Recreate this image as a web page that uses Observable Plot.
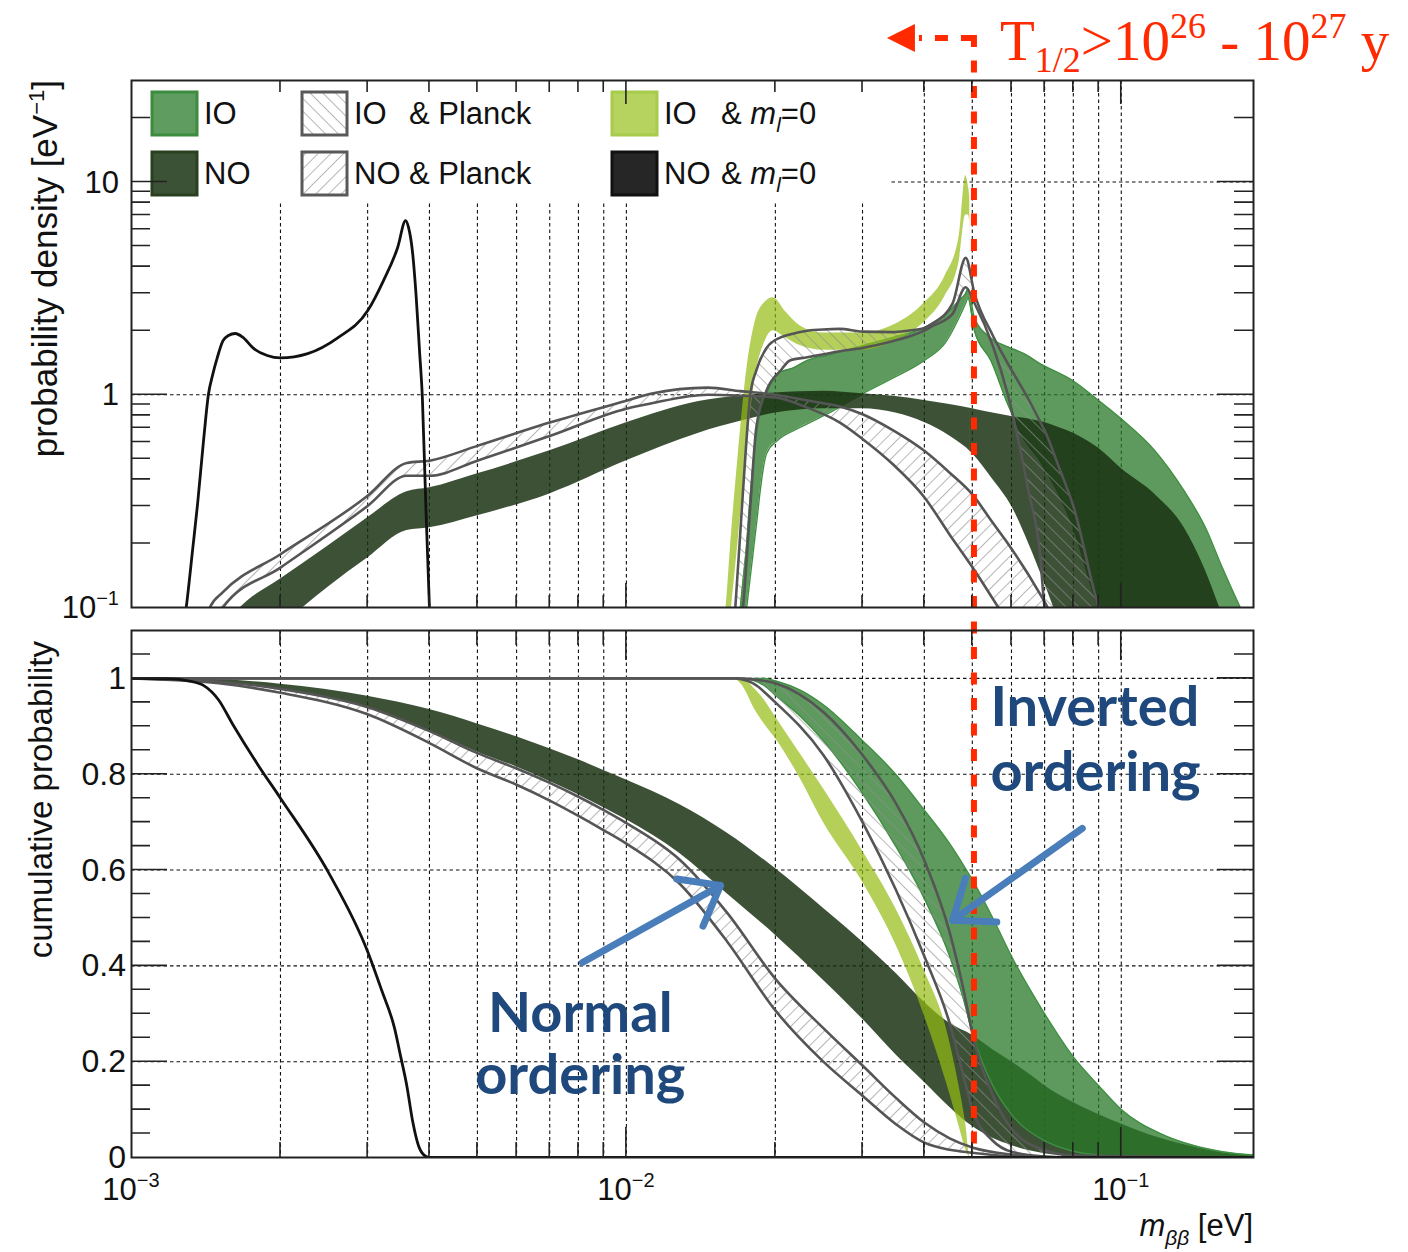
<!DOCTYPE html>
<html>
<head>
<meta charset="utf-8">
<script src="https://cdn.jsdelivr.net/npm/d3@7"></script>
<script src="https://cdn.jsdelivr.net/npm/@observablehq/plot@0.6"></script>
<style>
  html, body { margin: 0; padding: 0; background: #fff; }
  #chart { position: relative; width: 1408px; height: 1252px; overflow: hidden; }
  #chart svg { display: block; }
</style>
</head>
<body>
<svg width="0" height="0" style="position:absolute">
  <defs>
    <pattern id="hatchIO" patternUnits="userSpaceOnUse" width="9" height="9" patternTransform="rotate(-45)">
      <line x1="0" y1="0" x2="0" y2="9" stroke="#8e8e8e" stroke-width="1.3"></line>
    </pattern>
    <pattern id="hatchNO" patternUnits="userSpaceOnUse" width="9" height="9" patternTransform="rotate(45)">
      <line x1="0" y1="0" x2="0" y2="9" stroke="#8e8e8e" stroke-width="1.3"></line>
    </pattern>
  </defs>
</svg>
<div id="chart"></div>
<script>
// ---------------- axes / ticks ----------------
const X_DOMAIN = [0.001, 0.185];
const xMinorTicks = [0.002, 0.003, 0.004, 0.005, 0.006, 0.007, 0.008, 0.009, 0.02, 0.03, 0.04, 0.05, 0.06, 0.07, 0.08, 0.09];
const xMajorTicks = [0.01, 0.1];
const xGridLines = [0.002, 0.003, 0.004, 0.005, 0.006, 0.007, 0.008, 0.009, 0.01, 0.02, 0.03, 0.04, 0.05, 0.06, 0.07, 0.08, 0.09, 0.1];
const xTickLabels = [[0.001, "−3"], [0.01, "−2"], [0.1, "−1"]];

const densDomain = [0.1, 30];
const densMinorTicks = [0.2, 0.3, 0.4, 0.5, 0.6, 0.7, 0.8, 0.9, 2, 3, 4, 5, 6, 7, 8, 9, 20];
const densMajorTicks = [1, 10];
const densGridLines = [1, 10];
const densTickLabels = [[0.1, "10", "−1"], [1, "1", ""], [10, "10", ""]];

const cumDomain = [0, 1.1];
const cumMinorTicks = [0.05, 0.1, 0.15, 0.25, 0.3, 0.35, 0.45, 0.5, 0.55, 0.65, 0.7, 0.75, 0.85, 0.9, 0.95, 1.05];
const cumMajorTicks = [0.2, 0.4, 0.6, 0.8, 1];
const cumGridLines = [0.2, 0.4, 0.6, 0.8, 1];
const cumTickLabels = [0, 0.2, 0.4, 0.6, 0.8, 1];

// ---------------- probability density (top panel) ----------------
// NO & m_l = 0 (black line)
const noZeroX    = [0.00125, 0.00129, 0.00133, 0.00136, 0.0014, 0.00143, 0.00146, 0.00149, 0.00153, 0.00157, 0.00162, 0.00168, 0.00176, 0.00188, 0.002, 0.00227, 0.00261, 0.003, 0.00323, 0.00345, 0.00358, 0.00363, 0.0037, 0.00376, 0.00382, 0.00387, 0.00393, 0.004, 0.00404];
const noZeroDens = [0.06, 0.1, 0.19, 0.307, 0.628, 1.0, 1.25, 1.49, 1.79, 1.9, 1.94, 1.86, 1.66, 1.53, 1.49, 1.56, 1.85, 2.48, 3.44, 4.92, 6.59, 6.1, 4.6, 2.9, 1.6, 0.97, 0.32, 0.1, 0.06];

// NO band
const noX   = [0.0015, 0.00166, 0.002, 0.0025, 0.003, 0.0036, 0.004, 0.005, 0.007, 0.01, 0.014, 0.017, 0.02, 0.025, 0.03, 0.035, 0.04, 0.045, 0.05, 0.055, 0.06, 0.065, 0.07, 0.075, 0.08, 0.09, 0.1, 0.117, 0.134, 0.148, 0.158, 0.165];
const noHi  = [0.075, 0.1, 0.136, 0.195, 0.264, 0.35, 0.365, 0.425, 0.545, 0.738, 0.93, 0.99, 1.02, 1.04, 1.01, 0.98, 0.94, 0.9, 0.86, 0.82, 0.79, 0.77, 0.74, 0.7, 0.66, 0.56, 0.45, 0.34, 0.237, 0.149, 0.1, 0.075];
const noLo  = [0.04, 0.05, 0.08, 0.125, 0.171, 0.23, 0.237, 0.27, 0.342, 0.489, 0.66, 0.75, 0.82, 0.86, 0.86, 0.82, 0.74, 0.64, 0.53, 0.4, 0.3, 0.2, 0.13, 0.085, 0.06, 0.04, 0.03, 0.02, 0.02, 0.02, 0.02, 0.02];

// NO & Planck band
const noPlanckX  = [0.0014, 0.00144, 0.00153, 0.002, 0.003, 0.0036, 0.004, 0.005, 0.007, 0.01, 0.0112, 0.0146, 0.017, 0.02, 0.0232, 0.027, 0.03, 0.0346, 0.04, 0.045, 0.05, 0.055, 0.059, 0.0685, 0.071, 0.074];
const noPlanckHi = [0.08, 0.1, 0.118, 0.178, 0.335, 0.478, 0.49, 0.575, 0.74, 0.937, 1.01, 1.08, 1.04, 1.0, 0.94, 0.88, 0.81, 0.68, 0.545, 0.43, 0.34, 0.25, 0.2, 0.116, 0.1, 0.08];
const noPlanckLo = [0.06, 0.075, 0.1, 0.154, 0.3, 0.416, 0.416, 0.49, 0.64, 0.86, 0.91, 1.0, 0.99, 0.97, 0.87, 0.74, 0.62, 0.47, 0.33, 0.22, 0.155, 0.11, 0.085, 0.05, 0.045, 0.04];

// IO band
const ioX  = [0.0168, 0.017, 0.0175, 0.0178, 0.0184, 0.0186, 0.0192, 0.0202, 0.0218, 0.0232, 0.0254, 0.03, 0.0346, 0.04, 0.0443, 0.047, 0.0485, 0.049, 0.0505, 0.0545, 0.059, 0.0636, 0.0685, 0.08, 0.09, 0.1, 0.117, 0.134, 0.148, 0.16, 0.174, 0.18];
const ioHi = [0.07, 0.1, 0.2, 0.34, 0.7, 0.82, 1.01, 1.26, 1.34, 1.45, 1.53, 1.7, 1.86, 2.07, 2.4, 2.77, 3.0, 3.15, 2.3, 1.85, 1.68, 1.56, 1.4, 1.16, 0.94, 0.77, 0.545, 0.353, 0.237, 0.154, 0.1, 0.085];
const ioLo = [0.05, 0.06, 0.1, 0.14, 0.27, 0.34, 0.53, 0.61, 0.68, 0.73, 0.81, 1.01, 1.2, 1.45, 1.78, 2.3, 2.7, 2.85, 2.0, 1.45, 0.9, 0.62, 0.49, 0.237, 0.1, 0.07, 0.05, 0.05, 0.05, 0.05, 0.05, 0.05];

// IO & m_l = 0 band
const ioZeroX  = [0.0155, 0.0159, 0.0163, 0.0168, 0.0175, 0.0182, 0.019, 0.0198, 0.021, 0.0225, 0.025, 0.03, 0.035, 0.04, 0.044, 0.047, 0.0485, 0.0491, 0.0494, 0.0497];
const ioZeroHi = [0.06, 0.1, 0.22, 0.5, 1.3, 2.2, 2.7, 2.86, 2.45, 2.1, 1.95, 1.95, 2.15, 2.7, 3.6, 5.5, 10.7, 9.5, 8.5, 0.05];
const ioZeroLo = [0.04, 0.06, 0.1, 0.2, 0.55, 1.2, 1.75, 2.0, 1.85, 1.7, 1.62, 1.62, 1.8, 2.2, 2.9, 4.2, 7.0, 7.0, 6.5, 0.05];

// IO & Planck band
const ioPlanckX  = [0.0163, 0.0166, 0.0172, 0.0178, 0.0183, 0.0192, 0.0205, 0.0214, 0.0232, 0.0254, 0.027, 0.03, 0.0346, 0.037, 0.04, 0.0415, 0.0456, 0.0485, 0.0505, 0.055, 0.059, 0.065, 0.0685, 0.07, 0.075, 0.08, 0.09, 0.095];
const ioPlanckHi = [0.06, 0.1, 0.35, 1.0, 1.3, 1.66, 1.86, 1.92, 2.0, 2.03, 2.04, 1.98, 1.97, 2.0, 2.06, 2.16, 2.68, 4.4, 3.0, 1.9, 1.4, 0.95, 0.75, 0.68, 0.45, 0.3, 0.1, 0.07];
const ioPlanckLo = [0.04, 0.06, 0.1, 0.3, 0.7, 1.05, 1.3, 1.45, 1.5, 1.56, 1.6, 1.66, 1.79, 1.87, 2.0, 2.1, 2.4, 3.2, 2.7, 1.7, 1.0, 0.35, 0.18, 0.1, 0.06, 0.05, 0.05, 0.05];

// ---------------- cumulative probability (bottom panel) ----------------
const cumNoZeroX = [0.001, 0.0012, 0.0013, 0.0014, 0.0015, 0.0016, 0.0018, 0.002, 0.0025, 0.003, 0.0032, 0.0034, 0.0035, 0.0036, 0.0037, 0.0038, 0.0039, 0.004, 0.185];
const cumNoZeroY = [1, 0.999, 0.995, 0.985, 0.955, 0.905, 0.82, 0.75, 0.595, 0.43, 0.35, 0.27, 0.21, 0.15, 0.075, 0.025, 0.005, 0, 0];

const cumNoX  = [0.001, 0.0015, 0.002, 0.003, 0.004, 0.005, 0.006, 0.007, 0.008, 0.009, 0.01, 0.0128, 0.016, 0.02, 0.025, 0.03, 0.035, 0.04, 0.045, 0.05, 0.055, 0.06, 0.066, 0.07, 0.08, 0.09, 0.1, 0.12, 0.14, 0.16, 0.185];
const cumNoHi = [1, 0.997, 0.988, 0.963, 0.935, 0.905, 0.878, 0.853, 0.83, 0.808, 0.788, 0.737, 0.677, 0.603, 0.52, 0.45, 0.385, 0.324, 0.28, 0.255, 0.225, 0.2, 0.17, 0.15, 0.115, 0.09, 0.07, 0.04, 0.022, 0.01, 0.003];
const cumNoLo = [1, 0.993, 0.978, 0.94, 0.89, 0.846, 0.815, 0.785, 0.757, 0.73, 0.705, 0.635, 0.55, 0.464, 0.37, 0.289, 0.215, 0.157, 0.105, 0.065, 0.04, 0.025, 0.013, 0.008, 0.003, 0.001, 0, 0, 0, 0, 0];

const cumNoPlanckX  = [0.001, 0.0015, 0.002, 0.003, 0.004, 0.005, 0.006, 0.007, 0.008, 0.009, 0.01, 0.0128, 0.016, 0.02, 0.025, 0.03, 0.035, 0.04, 0.045, 0.05, 0.06, 0.07, 0.08, 0.185];
const cumNoPlanckHi = [1, 0.993, 0.978, 0.94, 0.89, 0.844, 0.812, 0.782, 0.753, 0.725, 0.698, 0.622, 0.51, 0.373, 0.27, 0.192, 0.125, 0.073, 0.04, 0.021, 0.006, 0.001, 0, 0];
const cumNoPlanckLo = [1, 0.99, 0.97, 0.925, 0.865, 0.812, 0.778, 0.745, 0.713, 0.683, 0.655, 0.572, 0.45, 0.307, 0.2, 0.129, 0.07, 0.031, 0.016, 0.01, 0.002, 0, 0, 0];

const cumIoX  = [0.001, 0.017, 0.019, 0.02, 0.0225, 0.025, 0.03, 0.035, 0.04, 0.045, 0.048, 0.05, 0.055, 0.06, 0.07, 0.08, 0.09, 0.1, 0.12, 0.14, 0.16, 0.185];
const cumIoHi = [1, 1, 1, 0.995, 0.975, 0.945, 0.87, 0.8, 0.725, 0.655, 0.61, 0.58, 0.5, 0.42, 0.3, 0.21, 0.15, 0.1, 0.05, 0.025, 0.012, 0.005];
const cumIoLo = [1, 1, 0.985, 0.965, 0.92, 0.87, 0.76, 0.65, 0.54, 0.42, 0.33, 0.26, 0.15, 0.09, 0.035, 0.013, 0.005, 0.002, 0, 0, 0, 0];

const cumIoZeroX  = [0.001, 0.0155, 0.0165, 0.017, 0.0183, 0.019, 0.02, 0.0222, 0.025, 0.03, 0.035, 0.04, 0.0443, 0.047, 0.0485, 0.0495, 0.185];
const cumIoZeroHi = [1, 1, 1, 1, 0.975, 0.955, 0.92, 0.85, 0.77, 0.64, 0.52, 0.39, 0.27, 0.15, 0.07, 0, 0];
const cumIoZeroLo = [1, 1, 0.998, 0.99, 0.93, 0.905, 0.875, 0.8, 0.7, 0.575, 0.445, 0.296, 0.157, 0.066, 0.017, 0, 0];

const cumIoPlanckX  = [0.001, 0.0165, 0.018, 0.02, 0.025, 0.03, 0.035, 0.04, 0.045, 0.048, 0.05, 0.055, 0.06, 0.07, 0.08, 0.185];
const cumIoPlanckHi = [1, 1, 0.998, 0.99, 0.93, 0.84, 0.74, 0.62, 0.47, 0.35, 0.26, 0.13, 0.06, 0.015, 0.004, 0];
const cumIoPlanckLo = [1, 1, 0.99, 0.95, 0.84, 0.7, 0.56, 0.42, 0.28, 0.17, 0.1, 0.035, 0.012, 0.002, 0, 0];

// ---------------- annotations ----------------
const limitX = [0.0505];   // m_bb reach for T1/2 > 1e26 - 1e27 y
const orderingArrows = [
  {x1: 0.00815, y1: 0.407, x2: 0.0155, y2: 0.568},
  {x1: 0.0834, y1: 0.687, x2: 0.0456, y2: 0.495}
];
const normalLabels = [{x: 0.00807, y: 0.262, text: "Normal"}, {x: 0.00807, y: 0.132, text: "ordering"}];
const invertedLabels = [{x: 0.0544, y: 0.9, text: "Inverted"}, {x: 0.0544, y: 0.766, text: "ordering"}];

const legendEntries = [
  {row: 0, col: 0, name: "IO", cond: null, fill: "#5f9c5f", stroke: "#3b8c3e"},
  {row: 1, col: 0, name: "NO", cond: null, fill: "#3c5236", stroke: "#28401f"},
  {row: 0, col: 1, name: "IO", cond: "planck", fill: "url(#hatchIO)", stroke: "#595959"},
  {row: 1, col: 1, name: "NO", cond: "planck", fill: "url(#hatchNO)", stroke: "#595959"},
  {row: 0, col: 2, name: "IO", cond: "zero", fill: "#b6d35f", stroke: "#a7cb4a"},
  {row: 1, col: 2, name: "NO", cond: "zero", fill: "#262626", stroke: "#111111"}
];

// ---------------- styles ----------------
const FONT = "'Liberation Sans', Arial, Helvetica, sans-serif";
const RED = "#ff2a00";
const BLUE_TEXT = "#1f497d";
const BLUE_ARROW = "#4a7ebb";
const IO_FILL = "rgb(40,120,40)", IO_OP = 0.75;
const NO_FILL = "rgb(24,48,17)", NO_OP = 0.84;
const IOZ_FILL = "rgb(148,188,19)", IOZ_OP = 0.7;
const EDGE_GREY = "#555";

const band = (xs, lo, hi) => xs.map((x, i) => ({x, lo: lo[i], hi: hi[i]}));
const pts = (xs, ys) => xs.map((x, i) => ({x, y: ys[i]}));

function area(rows, fill, fillOpacity = 1) {
  return Plot.areaY(rows, {x: "x", y1: "lo", y2: "hi", fill, fillOpacity, curve: "monotone-x", clip: true});
}
function edges(rows, stroke, strokeWidth) {
  return [
    Plot.line(rows, {x: "x", y: "lo", stroke, strokeWidth, curve: "monotone-x", clip: true}),
    Plot.line(rows, {x: "x", y: "hi", stroke, strokeWidth, curve: "monotone-x", clip: true})
  ];
}
const SVGNS = "http://www.w3.org/2000/svg";

function ticksMark(yMinor, yMajor, xLen, yLen) {
  return (index, scales, values, dims) => {
    const {x, y} = scales;
    const L = dims.marginLeft, R = dims.width - dims.marginRight, T = dims.marginTop, B = dims.height - dims.marginBottom;
    let d = "";
    const xt = (vals, len) => { for (const v of vals) { const p = x(v); d += `M${p},${B}V${B - len}M${p},${T}V${T + len}`; } };
    const yt = (vals, len) => { for (const v of vals) { const p = y(v); d += `M${L},${p}H${L + len}M${R},${p}H${R - len}`; } };
    xt(xMinorTicks, xLen[0]); xt(xMajorTicks, xLen[1]);
    yt(yMinor, yLen[0]); yt(yMajor, yLen[1]);
    const path = document.createElementNS(SVGNS, "path");
    path.setAttribute("d", d);
    path.setAttribute("fill", "none");
    path.setAttribute("stroke", "#222");
    path.setAttribute("stroke-width", "1.6");
    return path;
  };
}

function legendMark(index, scales, values, dims) {
  const L = dims.marginLeft, T = dims.marginTop;
  const g = d3.create("svg:g").attr("font-family", FONT).attr("font-size", 31).attr("fill", "#111").attr("text-anchor", "start");
  g.append("rect").attr("x", L + 1).attr("y", T + 1).attr("width", 758).attr("height", 122).attr("fill", "#fff");
  const colX = [L + 21, L + 171, L + 481];
  const rowY = [T + 33, T + 93];
  for (const e of legendEntries) {
    const sx = colX[e.col], cy = rowY[e.row];
    if (e.cond === "planck") {
      g.append("rect").attr("x", sx).attr("y", cy - 21).attr("width", 45).attr("height", 43).attr("fill", "#fff");
    }
    g.append("rect").attr("x", sx).attr("y", cy - 21).attr("width", 45).attr("height", 43)
      .attr("fill", e.fill).attr("stroke", e.stroke).attr("stroke-width", 3);
    g.append("text").attr("x", sx + 52).attr("y", cy + 11).text(e.name);
    if (e.cond) {
      const t = g.append("text").attr("x", sx + 107 + (e.col === 2 ? 2 : 0)).attr("y", cy + 11);
      if (e.cond === "planck") {
        t.text("& Planck");
      } else {
        t.append("tspan").text("& ");
        t.append("tspan").attr("font-style", "italic").text("m");
        t.append("tspan").attr("font-style", "italic").attr("font-size", 21).attr("dy", 8).text("l");
        t.append("tspan").attr("dy", -8).text("=0");
      }
    }
  }
  return g.node();
}

function supLabel(g, x, y, base, sup, anchor, size) {
  const t = g.append("text").attr("x", x).attr("y", y).attr("text-anchor", anchor).attr("font-size", size);
  t.append("tspan").text(base);
  if (sup) t.append("tspan").attr("dy", -Math.round(size * 0.42)).attr("font-size", Math.round(size * 0.66)).text(sup);
  return t;
}

function topLabels(index, {x, y}, values, dims) {
  const L = dims.marginLeft, T = dims.marginTop;
  const g = d3.create("svg:g").attr("font-family", FONT).attr("fill", "#111");
  for (const [v, base, sup] of densTickLabels) supLabel(g, L - 12, y(v) + 11, base, sup, "end", 31);
  const t = g.append("text").attr("transform", `translate(45,${T}) rotate(-90)`).attr("text-anchor", "end")
    .attr("font-size", 35).attr("dy", "0.35em");
  t.append("tspan").text("probability density [eV");
  t.append("tspan").attr("dy", -13).attr("font-size", 22).text("−1");
  t.append("tspan").attr("dy", 13).text("]");
  return g.node();
}

function bottomLabels(index, {x, y}, values, dims) {
  const L = dims.marginLeft, R = dims.width - dims.marginRight, T = dims.marginTop, B = dims.height - dims.marginBottom;
  const g = d3.create("svg:g").attr("font-family", FONT).attr("fill", "#111");
  for (const [v, sup] of xTickLabels) supLabel(g, x(v), B + 43, "10", sup, "middle", 31);
  for (const v of cumTickLabels) {
    g.append("text").attr("x", L - 5).attr("y", y(v) + 11).attr("text-anchor", "end").attr("font-size", 32)
      .text(v === 0 || v === 1 ? String(v) : v.toFixed(1));
  }
  g.append("text").attr("transform", `translate(40,${T + 11}) rotate(-90)`).attr("text-anchor", "end")
    .attr("font-size", 33).attr("dy", "0.35em").text("cumulative probability");
  const t = g.append("text").attr("x", R).attr("y", B + 79).attr("text-anchor", "end").attr("font-size", 31);
  t.append("tspan").attr("font-style", "italic").text("m");
  t.append("tspan").attr("font-style", "italic").attr("font-size", 21).attr("dy", 9).text("ββ");
  t.append("tspan").attr("dy", -9).text(" [eV]");
  return g.node();
}

const TOP_START = 35, V_DASH = "12,13.5", V_PERIOD = 25.5;
function limitTop(index, {x}, values, dims) {
  const px = x(limitX[0]);
  const g = d3.create("svg:g");
  const yA = TOP_START + 3;
  g.append("line").attr("x1", px).attr("x2", px).attr("y1", TOP_START).attr("y2", dims.height)
    .attr("stroke", RED).attr("stroke-width", 6).attr("stroke-dasharray", V_DASH);
  g.append("line").attr("x1", px).attr("x2", px - 55).attr("y1", yA).attr("y2", yA)
    .attr("stroke", RED).attr("stroke-width", 6).attr("stroke-dasharray", "13,13");
  g.append("path").attr("d", `M${px - 87},${yA}L${px - 59},${yA - 14}L${px - 59},${yA + 14}Z`).attr("fill", RED);
  const t = g.append("text").attr("x", px + 26).attr("y", 60).attr("fill", RED).attr("text-anchor", "start")
    .attr("font-family", "'Liberation Serif', 'Times New Roman', serif").attr("font-size", 57);
  t.append("tspan").text("T");
  t.append("tspan").attr("font-size", 36).attr("dy", 12).text("1/2");
  t.append("tspan").attr("dy", -12).text(">10");
  t.append("tspan").attr("font-size", 36).attr("dy", -22).text("26");
  t.append("tspan").attr("dy", 22).text(" - 10");
  t.append("tspan").attr("font-size", 36).attr("dy", -22).text("27");
  t.append("tspan").attr("dy", 22).text(" y");
  return g.node();
}
function limitBottom(index, {x}, values, dims) {
  const px = x(limitX[0]);
  const g = d3.create("svg:g");
  const offset = (620 - TOP_START) % V_PERIOD;
  g.append("line").attr("x1", px).attr("x2", px).attr("y1", 0).attr("y2", dims.height - dims.marginBottom)
    .attr("stroke", RED).attr("stroke-width", 6).attr("stroke-dasharray", V_DASH).attr("stroke-dashoffset", offset);
  return g.node();
}

const gridStyle = {stroke: "#111", strokeOpacity: 1, strokeWidth: 1.1, strokeDasharray: "3.5,3"};

// ---------------- top panel ----------------
const ioTop = band(ioX, ioLo, ioHi);
const noTop = band(noX, noLo, noHi);
const ioZeroTop = band(ioZeroX, ioZeroLo, ioZeroHi);
const ioPlanckTop = band(ioPlanckX, ioPlanckLo, ioPlanckHi);
const noPlanckTop = band(noPlanckX, noPlanckLo, noPlanckHi);

const topPlot = Plot.plot({
  width: 1408, height: 620,
  marginLeft: 131, marginRight: 155, marginTop: 80, marginBottom: 13,
  x: {type: "log", domain: X_DOMAIN, axis: null},
  y: {type: "log", domain: densDomain, axis: null},
  style: {background: "transparent", fontFamily: FONT, overflow: "visible"},
  marks: [
    Plot.gridX(xGridLines, gridStyle),
    Plot.gridY(densGridLines, gridStyle),
    legendMark,
    area(ioTop, IO_FILL, IO_OP),
    ...edges(ioTop, "#3f8f42", 1.4),
    area(noTop, NO_FILL, NO_OP),
    area(ioZeroTop, IOZ_FILL, IOZ_OP),
    area(ioPlanckTop, "url(#hatchIO)"),
    ...edges(ioPlanckTop, EDGE_GREY, 2.6),
    area(noPlanckTop, "url(#hatchNO)"),
    ...edges(noPlanckTop, EDGE_GREY, 2.6),
    Plot.line(pts(noZeroX, noZeroDens), {x: "x", y: "y", stroke: "#111", strokeWidth: 2.8, curve: "monotone-x", clip: true}),
    limitTop,
    Plot.frame({stroke: "#222", strokeWidth: 2}),
    ticksMark(densMinorTicks, densMajorTicks, [12, 24], [19, 36]),
    topLabels
  ]
});

// ---------------- bottom panel ----------------
const noCum = band(cumNoX, cumNoLo, cumNoHi);
const ioCum = band(cumIoX, cumIoLo, cumIoHi);
const ioZeroCum = band(cumIoZeroX, cumIoZeroLo, cumIoZeroHi);
const ioPlanckCum = band(cumIoPlanckX, cumIoPlanckLo, cumIoPlanckHi);
const noPlanckCum = band(cumNoPlanckX, cumNoPlanckLo, cumNoPlanckHi);

const bottomPlot = Plot.plot({
  width: 1408, height: 632,
  marginLeft: 131, marginRight: 155, marginTop: 10, marginBottom: 95,
  x: {type: "log", domain: X_DOMAIN, axis: null},
  y: {type: "linear", domain: cumDomain, axis: null},
  style: {background: "transparent", fontFamily: FONT, overflow: "visible"},
  marks: [
    Plot.gridX(xGridLines, gridStyle),
    Plot.gridY(cumGridLines, gridStyle),
    area(noCum, NO_FILL, NO_OP),
    area(ioCum, IO_FILL, IO_OP),
    ...edges(ioCum, "#3f8f42", 1.4),
    area(ioZeroCum, IOZ_FILL, IOZ_OP),
    area(ioPlanckCum, "url(#hatchIO)"),
    ...edges(ioPlanckCum, EDGE_GREY, 2.6),
    area(noPlanckCum, "url(#hatchNO)"),
    ...edges(noPlanckCum, EDGE_GREY, 2.6),
    Plot.line(pts(cumNoZeroX, cumNoZeroY), {x: "x", y: "y", stroke: "#111", strokeWidth: 2.8, curve: "monotone-x", clip: true}),
    limitBottom,
    Plot.arrow(orderingArrows, {x1: "x1", y1: "y1", x2: "x2", y2: "y2", stroke: BLUE_ARROW, strokeWidth: 7, headLength: 9.5, headAngle: 75}),
    Plot.text(normalLabels, {x: "x", y: "y", text: "text", textAnchor: "middle", lineAnchor: "bottom", fill: BLUE_TEXT, fontSize: 56, fontWeight: "bold", fontFamily: "Lato, 'Open Sans', sans-serif"}),
    Plot.text(invertedLabels, {x: "x", y: "y", text: "text", textAnchor: "start", lineAnchor: "bottom", fill: BLUE_TEXT, fontSize: 56, fontWeight: "bold", fontFamily: "Lato, 'Open Sans', sans-serif"}),
    Plot.frame({stroke: "#222", strokeWidth: 2}),
    ticksMark(cumMinorTicks, cumMajorTicks, [15, 30], [19, 36]),
    bottomLabels
  ]
});

const chart = document.getElementById("chart");
chart.appendChild(topPlot);
chart.appendChild(bottomPlot);
</script>
</body>
</html>
